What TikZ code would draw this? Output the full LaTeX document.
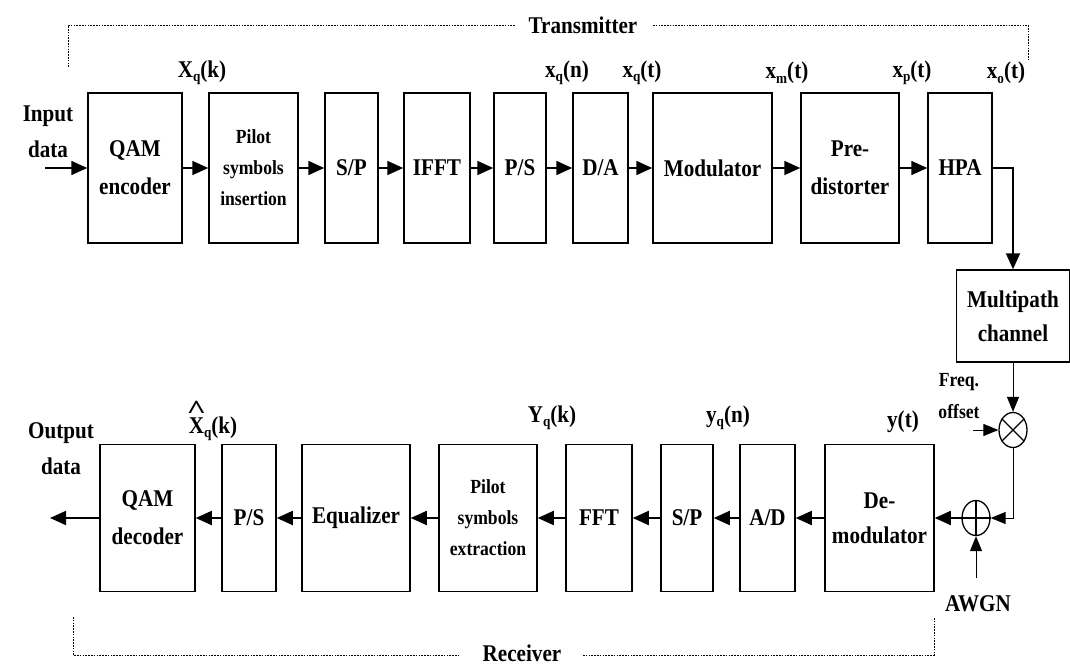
\documentclass[tikz,border=0pt]{standalone}
\usepackage{fontspec}
\usepackage{graphicx}
\setmainfont{Liberation Serif}[FakeStretch=0.88]
\usetikzlibrary{arrows.meta,shapes.geometric}
\newcommand\bigtxt{\fontsize{24}{38}\selectfont\bfseries}
\newcommand\smalltxt{\fontsize{20}{31}\selectfont\bfseries}
\newcommand\sub[1]{\raisebox{-0.18em}{\fontsize{15}{15}\selectfont #1}}
\newcommand\hatX{{\setbox0\hbox{X}\rlap{\copy0}\makebox[\wd0]{\raisebox{0.62em}{\scalebox{1.6}[1.1]{\^{}}}}}}
\begin{document}
\begin{tikzpicture}[x=1pt,y=-1pt,
  blk/.style={draw, line width=1.5pt, inner sep=0pt, align=center, font=\bigtxt},
  top/.style={blk, minimum height=150pt},
  bot/.style={blk, minimum height=147pt},
  arr/.style={line width=1.8pt, -{Triangle[length=16pt,width=14pt]}},
  thin arr/.style={line width=1pt, -{Triangle[length=15pt,width=12pt]}},
  lab/.style={font=\bigtxt, inner sep=0pt},
  dots/.style={line width=0.9pt, dash pattern=on 1.6pt off 1.2pt},
  circ/.style={draw, ellipse, line width=1.3pt, minimum width=28pt, minimum height=35pt, inner sep=0pt}]
\useasboundingbox (0,0) rectangle (1070,666);
% transmitter row
\node[top, minimum width=94pt] (enc) at (135,168) {QAM\\encoder};
\node[top, minimum width=89pt, font=\smalltxt] (pins) at (253.5,168) {Pilot\\symbols\\insertion};
\node[top, minimum width=53pt] (sp) at (351.5,168) {S/P};
\node[top, minimum width=66pt] (ifft) at (437,168) {IFFT};
\node[top, minimum width=52pt] (ps) at (520,168) {P/S};
\node[top, minimum width=55pt] (da) at (600.5,168) {D/A};
\node[top, minimum width=119pt] (mod) at (712.5,168) {Modulator};
\node[top, minimum width=98pt] (pre) at (850,168) {Pre-\\distorter};
\node[top, minimum width=64pt] (hpa) at (960,168) {HPA};
\node[blk, minimum width=113pt, minimum height=92pt] (mp) at (1013,316) {Multipath\\[-4pt]channel};
% receiver row
\node[bot, minimum width=109pt] (dem) at (879.5,518) {De-\\[-3pt]modulator};
\node[bot, minimum width=55pt] (ad) at (767.5,518) {A/D};
\node[bot, minimum width=52pt] (sp2) at (687,518) {S/P};
\node[bot, minimum width=66pt] (fft) at (599,518) {FFT};
\node[bot, minimum width=98pt, font=\smalltxt] (pext) at (488,518) {Pilot\\symbols\\extraction};
\node[bot, minimum width=108pt] (eq) at (356,518) {Equalizer};
\node[bot, minimum width=54pt] (ps2) at (249,518) {P/S};
\node[bot, minimum width=95pt] (dec) at (147.5,518) {QAM\\decoder};
% mixer and adder
\node[circ] (mul) at (1013,430) {};
\draw[line width=1.3pt] (mul.45) -- (mul.225) (mul.135) -- (mul.315);
\node[circ] (add) at (976,518) {};
\draw[line width=1.3pt] (add.north) -- (add.south) (add.east) -- (add.west);
% coordinates
\coordinate (in) at (45,168);
\coordinate (out) at (50,518);
\coordinate (fo) at (973,430);
\coordinate (aw) at (976,578);
\coordinate (cr) at (1013,518);
% connectors
\draw[arr] (in) -- (enc);
\draw[arr] (enc) -- (pins);
\draw[arr] (pins) -- (sp);
\draw[arr] (sp) -- (ifft);
\draw[arr] (ifft) -- (ps);
\draw[arr] (ps) -- (da);
\draw[arr] (da) -- (mod);
\draw[arr] (mod) -- (pre);
\draw[arr] (pre) -- (hpa);
\draw[arr] (hpa.east) -| (mp.north);
\draw[thin arr] (mp.south) -- (mul.north);
\draw[thin arr] (fo) -- (mul.west);
\draw[thin arr] (mul.south) -- (cr) -- (add.east);
\draw[thin arr] (aw) -- (add.south);
\draw[arr] (add.west) -- (dem.east);
\draw[arr] (dem) -- (ad);
\draw[arr] (ad) -- (sp2);
\draw[arr] (sp2) -- (fft);
\draw[arr] (fft) -- (pext);
\draw[arr] (pext) -- (eq);
\draw[arr] (eq) -- (ps2);
\draw[arr] (ps2) -- (dec);
\draw[arr] (dec) -- (out);
% labels
\node[lab, align=center] (indata) at (48,132) {Input\\[-2pt]data};
\node[lab, align=center] (outdata) at (61,449) {Output\\[-2pt]data};
\node[lab] (l1) at (202,73) {X\sub{q}(k)};
\node[lab] (l2) at (567,73) {x\sub{q}(n)};
\node[lab] (l3) at (642,73) {x\sub{q}(t)};
\node[lab] (l4) at (787,73) {x\sub{m}(t)};
\node[lab] (l5) at (912,73) {x\sub{p}(t)};
\node[lab] (l6) at (1006,73) {x\sub{o}(t)};
\node[lab] (l7) at (213,421) {\hatX\sub{q}(k)};
\node[lab] (l8) at (552,418) {Y\sub{q}(k)};
\node[lab] (l9) at (728,418) {y\sub{q}(n)};
\node[lab] (l10) at (903,422) {y(t)};
\node[lab, font=\fontsize{20}{32}\selectfont\bfseries, align=center] (freq) at (959,396) {Freq.\\offset};
\node[lab] (awgn) at (978,604) {AWGN};
\node[lab] (tx) at (583,25) {Transmitter};
\node[lab] (rx) at (522,653) {Receiver};
% dotted brackets
\draw[dots] (68,67) -- (68,25) -- (515,25);
\draw[dots] (653,25) -- (1028,25) -- (1028,60);
\draw[dots] (73,617) -- (73,655) -- (460,655);
\draw[dots] (583,655) -- (934,655) -- (934,617);
\end{tikzpicture}
\end{document}
